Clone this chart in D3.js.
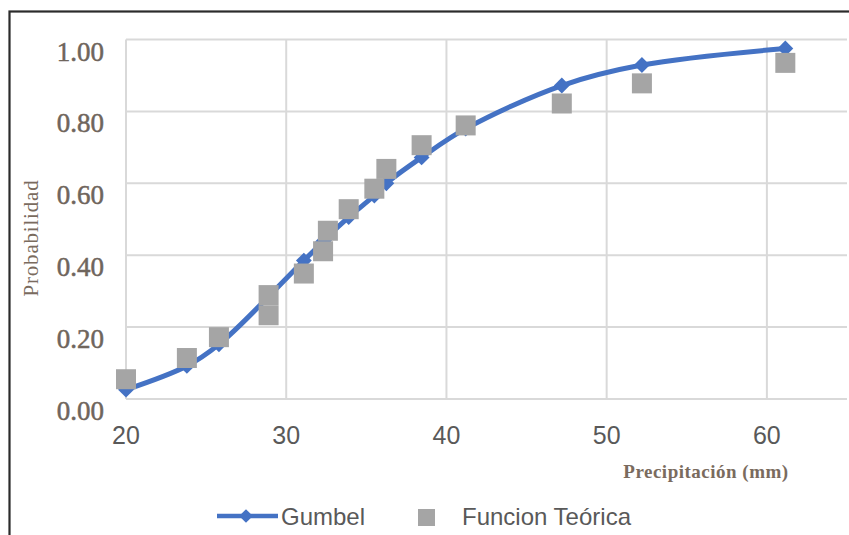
<!DOCTYPE html>
<html>
<head>
<meta charset="utf-8">
<script src="https://cdn.jsdelivr.net/npm/d3@7"></script>
<style>
  html, body { margin: 0; padding: 0; background: #ffffff; }
  svg { display: block; }
</style>
</head>
<body>
<svg id="chart" width="849" height="535"></svg>
<script>
// Precipitation values (mm), sorted ascending
const precipitacion = [20.0, 23.8, 25.8, 28.9, 28.9, 31.1, 32.3, 32.6, 33.9, 35.5, 36.25, 38.45, 41.2, 47.2, 52.2, 61.15];
// Gumbel cumulative probability
const gumbel = [0.026, 0.092, 0.152, 0.285, 0.285, 0.385, 0.438, 0.452, 0.506, 0.566, 0.600, 0.672, 0.752, 0.872, 0.929, 0.975];
// Theoretical (empirical) probability
const teorica = [0.055, 0.114, 0.172, 0.233, 0.289, 0.349, 0.411, 0.468, 0.528, 0.585, 0.640, 0.706, 0.761, 0.822, 0.878, 0.935];

const xTicks = [20, 30, 40, 50, 60];
const yTicks = [0, 0.2, 0.4, 0.6, 0.8, 1.0];
const seriesNames = ["Gumbel", "Funcion Teórica"];

const svg = d3.select("#chart");

// outer frame
svg.append("rect")
  .attr("x", 9.5).attr("y", 11.5)
  .attr("width", 900).attr("height", 600)
  .attr("fill", "none")
  .attr("stroke", "#2b2b2b")
  .attr("stroke-width", 2.2);

const x = d3.scaleLinear().domain([20, 65]).range([126, 847]);
const y = d3.scaleLinear().domain([0, 1]).range([399, 39.5]);

// gridlines
const grid = svg.append("g").attr("stroke", "#d9d9d9").attr("stroke-width", 2);
grid.selectAll("line.v").data(xTicks).join("line")
  .attr("class", "v")
  .attr("x1", d => x(d)).attr("x2", d => x(d))
  .attr("y1", y(0)).attr("y2", y(1));
grid.selectAll("line.h").data(yTicks).join("line")
  .attr("class", "h")
  .attr("x1", x(20)).attr("x2", x(65))
  .attr("y1", d => y(d)).attr("y2", d => y(d));

// y tick labels
svg.append("g").selectAll("text").data(yTicks).join("text")
  .attr("x", 104)
  .attr("y", d => y(d) + 21)
  .attr("text-anchor", "end")
  .attr("font-family", "'Liberation Serif', 'DejaVu Serif', serif")
  .attr("font-size", 27)
  .attr("fill", "#6f655c")
  .attr("stroke", "#6f655c")
  .attr("stroke-width", 0.5)
  .text(d => d3.format(".2f")(d));

// x tick labels
svg.append("g").selectAll("text").data(xTicks).join("text")
  .attr("x", d => x(d))
  .attr("y", 444)
  .attr("text-anchor", "middle")
  .attr("font-family", "'Liberation Sans', Arial, sans-serif")
  .attr("font-size", 25)
  .attr("fill", "#595959")
  .text(d => d);

// axis titles
svg.append("text")
  .attr("transform", "translate(38,238) rotate(-90)")
  .attr("text-anchor", "middle")
  .attr("font-family", "'Liberation Serif', serif")
  .attr("font-size", 21)
  .attr("letter-spacing", 0.8)
  .attr("fill", "#7a6b5e")
  .text("Probabilidad");

svg.append("text")
  .attr("x", 706)
  .attr("y", 478)
  .attr("text-anchor", "middle")
  .attr("font-family", "'Liberation Serif', serif")
  .attr("font-weight", "bold")
  .attr("font-size", 19)
  .attr("letter-spacing", 0.5)
  .attr("fill", "#7a6b5e")
  .text("Precipitación (mm)");

const pts = precipitacion.map((p, i) => ({ p, g: gumbel[i], t: teorica[i] }));

const blue = "#4472C4";
const gray = "#A5A5A5";

// Gumbel smooth line
const line = d3.line()
  .x(d => x(d.p))
  .y(d => y(d.g))
  .curve(d3.curveCatmullRom.alpha(0.5));

svg.append("path")
  .datum(pts)
  .attr("d", line)
  .attr("fill", "none")
  .attr("stroke", blue)
  .attr("stroke-width", 5)
  .attr("stroke-linejoin", "round")
  .attr("stroke-linecap", "round");

const diamond = d3.symbol().type(d3.symbolDiamond2).size(160);
svg.append("g").selectAll("path").data(pts).join("path")
  .attr("transform", d => `translate(${x(d.p)},${y(d.g)})`)
  .attr("d", diamond)
  .attr("fill", blue);

// theoretical squares
const sq = 20;
svg.append("g").selectAll("rect").data(pts).join("rect")
  .attr("x", d => x(d.p) - sq / 2)
  .attr("y", d => y(d.t) - sq / 2)
  .attr("width", sq).attr("height", sq)
  .attr("fill", gray);

// legend
const lg = svg.append("g");
lg.append("line")
  .attr("x1", 217).attr("x2", 278)
  .attr("y1", 516).attr("y2", 516)
  .attr("stroke", blue).attr("stroke-width", 4.5);
lg.append("path")
  .attr("transform", "translate(246,516)")
  .attr("d", d3.symbol().type(d3.symbolDiamond2).size(120))
  .attr("fill", blue);
lg.append("text")
  .attr("x", 281).attr("y", 525)
  .attr("font-family", "'Liberation Sans', Arial, sans-serif")
  .attr("font-size", 24)
  .attr("fill", "#595959")
  .text(seriesNames[0]);
lg.append("rect")
  .attr("x", 418).attr("y", 509)
  .attr("width", 17).attr("height", 17)
  .attr("fill", gray);
lg.append("text")
  .attr("x", 462).attr("y", 525)
  .attr("font-family", "'Liberation Sans', Arial, sans-serif")
  .attr("font-size", 24)
  .attr("fill", "#595959")
  .text(seriesNames[1]);
</script>
</body>
</html>
